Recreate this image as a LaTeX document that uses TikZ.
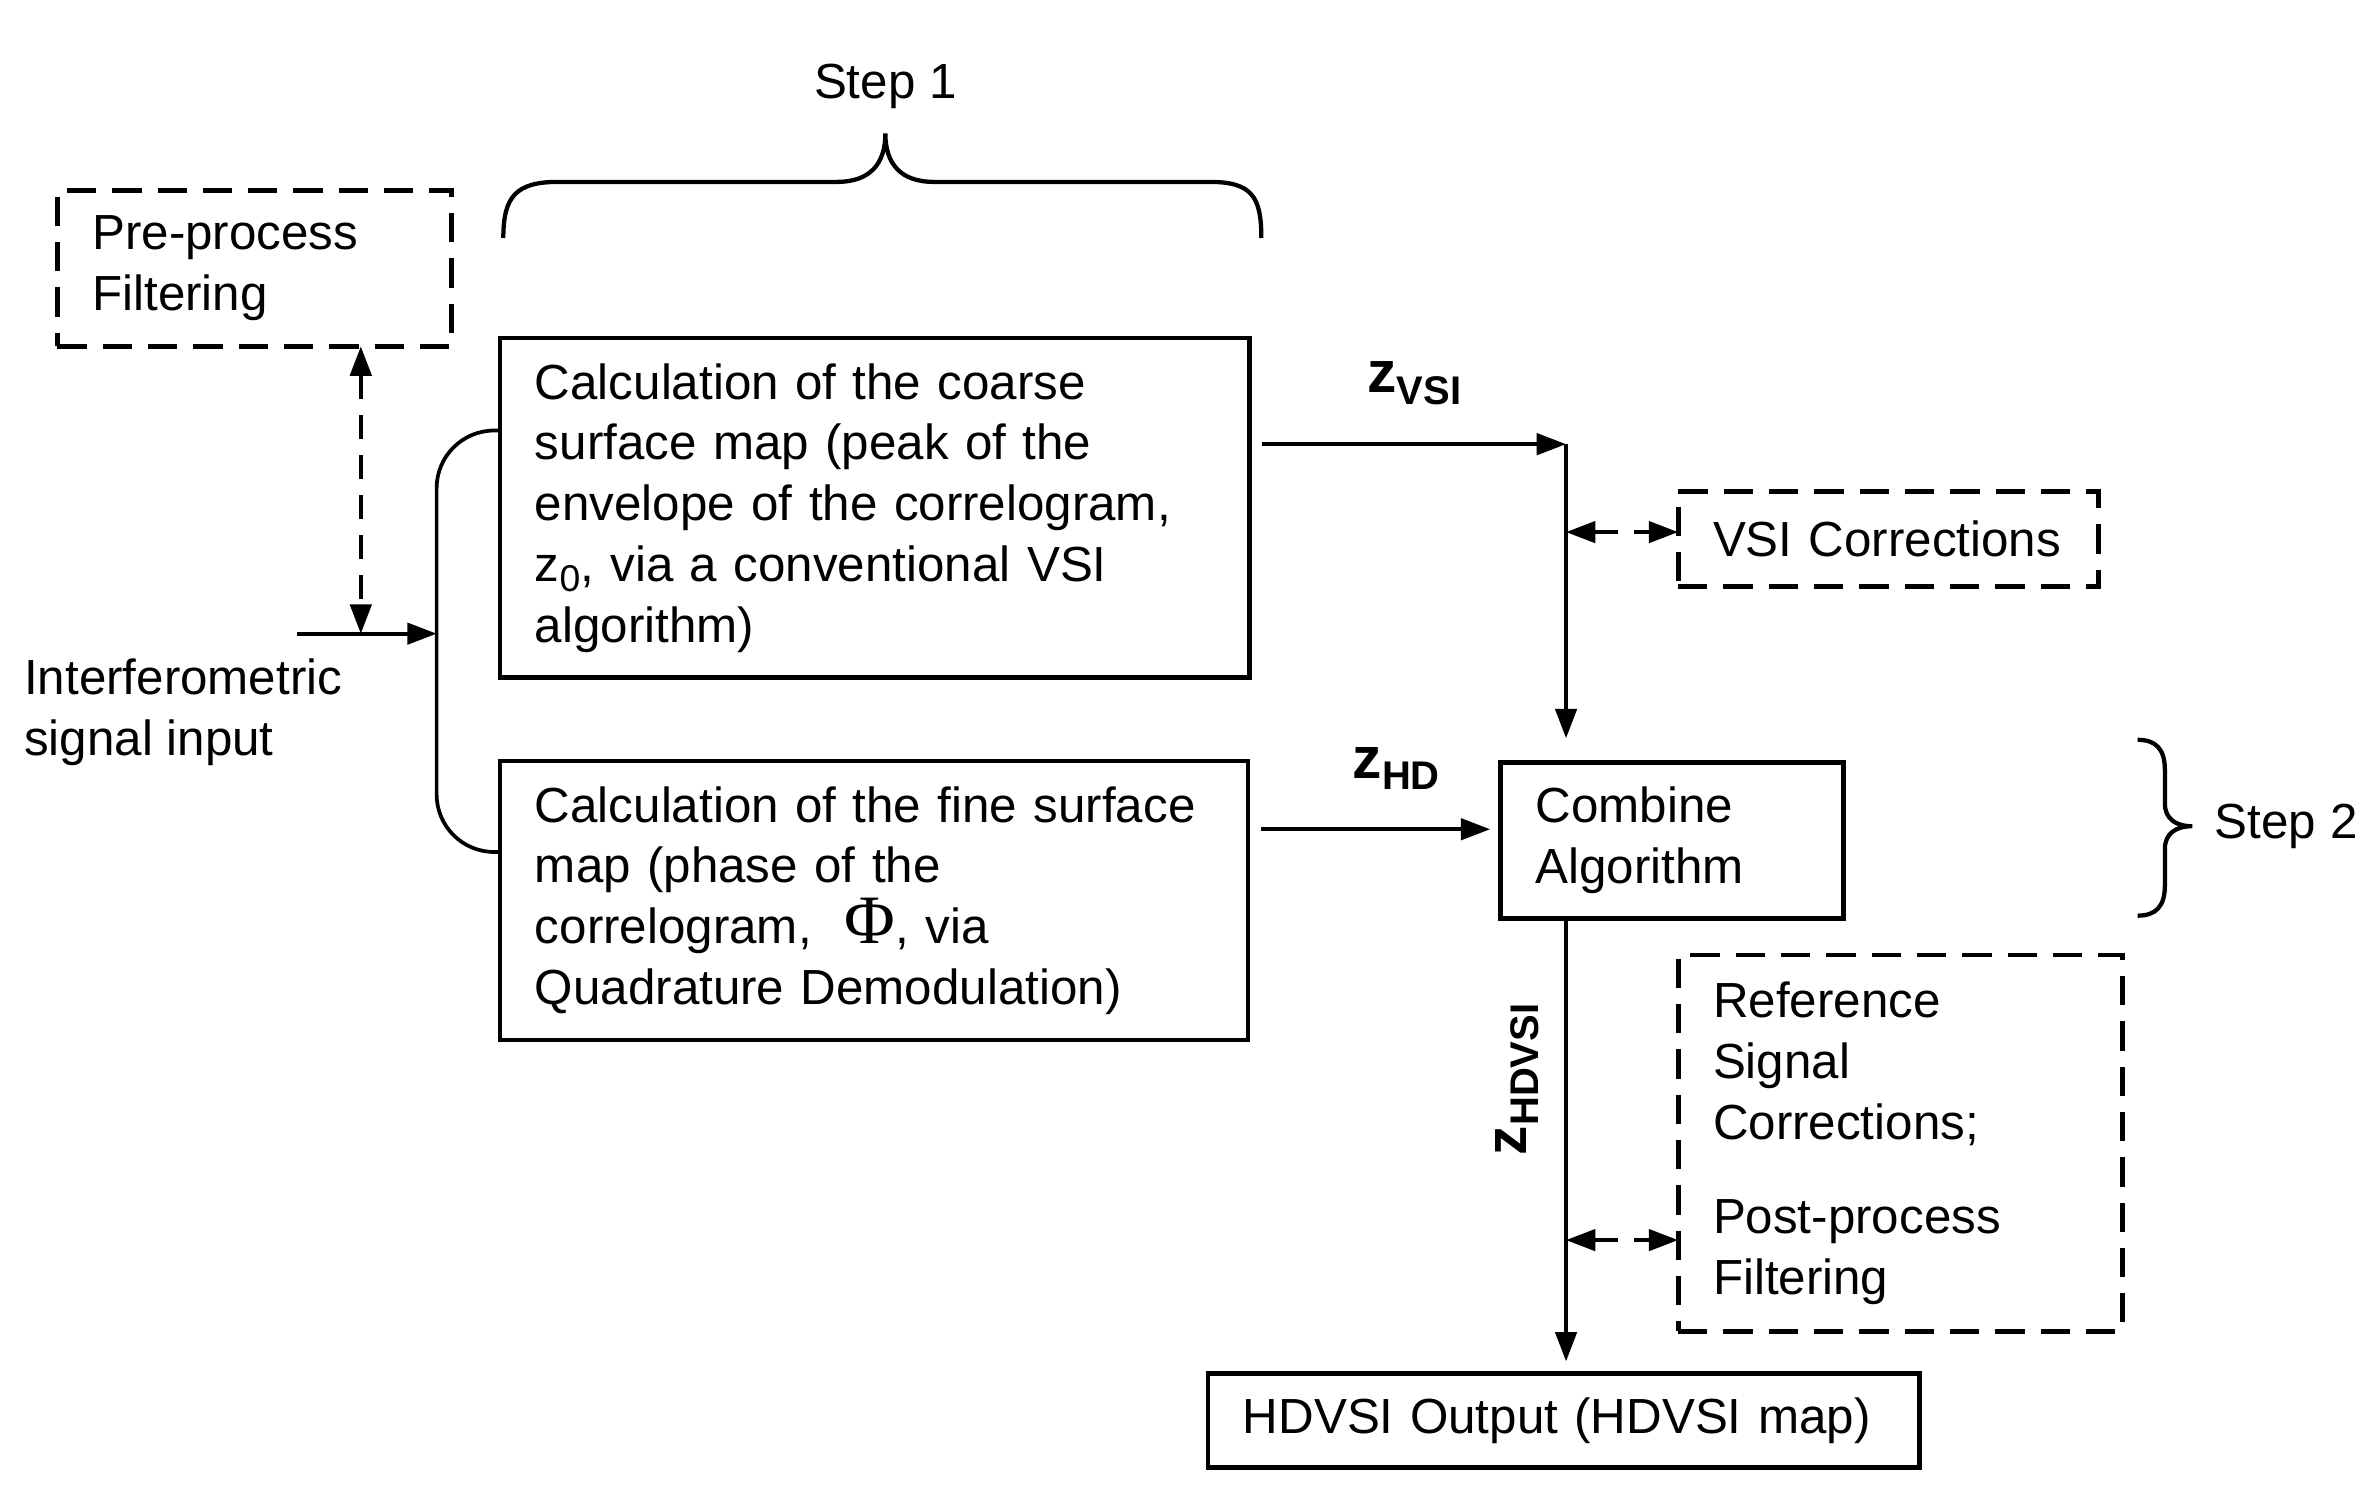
\documentclass[tikz,border=0pt]{standalone}
\usepackage{fontspec}
\setmainfont{Liberation Sans}
\newfontfamily\serifgr{Liberation Serif}
\usetikzlibrary{arrows.meta,calc}
\hyphenpenalty=10000
\exhyphenpenalty=10000
\newcommand\zlab[1]{{\bfseries\fontsize{11}{11}\selectfont z}\raisebox{-0.45ex}{\bfseries\fontsize{7.5}{7.5}\selectfont #1}}
\begin{document}
\begin{tikzpicture}[x=0.01cm,y=-0.01cm,
  every node/.style={font=\fontsize{9.25}{11.4}\selectfont,inner sep=0pt,outer sep=0pt},
  box/.style={draw,line width=0.9pt,align=left,inner xsep=0.23cm,inner ysep=0pt},
  dbox/.style={box,dash pattern=on 5.5pt off 3pt},
  conn/.style={line width=0.7pt,-{Triangle[length=5.5pt,width=4pt]}},
  dconn/.style={line width=0.7pt,dash pattern=on 4.5pt off 3pt,{Triangle[length=5.5pt,width=4pt]}-{Triangle[length=5.5pt,width=4pt]}},
  brace/.style={line width=0.8pt},
]
\useasboundingbox (0,0) rectangle (1560,983);

% boxes
\node[dbox,text width=2.14cm,minimum height=1.03cm] (pre) at (168,177) {Pre-process\\Filtering};
\node[box,text width=4.48cm,minimum height=2.24cm] (coarse) at (577,335)
  {Calculation of the coarse\\surface map (peak of the\\envelope of the correlogram,\\z\raisebox{-0.4ex}{\fontsize{7}{7}\selectfont 0}, via a conventional VSI\\algorithm)};
\node[box,text width=4.47cm,minimum height=1.84cm] (fine) at (576.5,594)
  {Calculation of the fine surface\\map (phase of the\\correlogram,\ \ {\serifgr\fontsize{13}{11.4}\selectfont Φ}, via\\Quadrature Demodulation)};
\node[box,text width=1.80cm,minimum height=1.03cm] (comb) at (1103,554.5) {Combine\\Algorithm};
\node[dbox,text width=2.31cm,minimum height=0.63cm] (vsi) at (1245.5,355.5) {\mbox{VSI Corrections}};
\node[dbox,text width=2.47cm,minimum height=2.48cm] (ref) at (1253.5,754)
  {Reference\\Signal\\Corrections;\\[6.3pt]Post-process\\Filtering};
\node[box,text width=4.23cm,minimum height=0.62cm] (out) at (1031.5,937) {\mbox{HDVSI Output (HDVSI map)}};

% texts
\node[align=left,anchor=west] (inp) at (16,470) {Interferometric\\signal input};
\node (s1) at (584,57) {Step 1};
\node[anchor=west] (s2) at (1461,545) {Step 2};
\node (zvsi) at (933,253) {\zlab{VSI}};
\node (zhd) at (921,507) {\zlab{HD}};
\node[rotate=90] (zhdvsi) at (1001,712) {\zlab{HDVSI}};

% braces
\draw[brace] (332,157) .. controls (332,130) and (340,120) .. (368,120) -- (552,120)
  .. controls (574,120) and (584,108) .. (584,88)
  .. controls (584,108) and (594,120) .. (616,120) -- (798,120)
  .. controls (826,120) and (832,130) .. (832,157);
\draw[brace] (1410,488) .. controls (1422,488) and (1428,494) .. (1428,508) -- (1428,530)
  .. controls (1428,540) and (1435,545) .. (1446,545)
  .. controls (1435,545) and (1428,550) .. (1428,560) -- (1428,584)
  .. controls (1428,598) and (1422,604) .. (1410,604);

% coordinates
\coordinate (inS) at (196,418);
\coordinate (brX) at (288,418);
\coordinate (dj) at (238,418);
\coordinate (vj) at (1033,293);
\coordinate (hd) at (832,547);
\coordinate (rj) at (1033,818);

% left bracket joining the two calculation boxes
\draw[line width=0.7pt,rounded corners=0.38cm] (coarse.west |- 0,284) -- (288,284) -- (288,562) -- (fine.west |- 0,562);

% connectors
\draw[conn] (inS) -- (brX);
\draw[dconn] (pre.south -| dj) -- (dj);
\draw[conn] (vj -| coarse.east) ++(8,0) -- (vj);
\draw[conn,shorten >=0.16cm] (vj) -- (comb.north -| vj);
\draw[dconn] (vj |- 0,351) -- (vsi.west |- 0,351);
\draw[conn,shorten >=0.07cm] (hd) -- (hd -| comb.west);
\draw[conn,shorten >=0.08cm] (comb.south -| vj) -- (out.north -| vj);
\draw[dconn] (rj) -- (rj -| ref.west);
\end{tikzpicture}
\end{document}
